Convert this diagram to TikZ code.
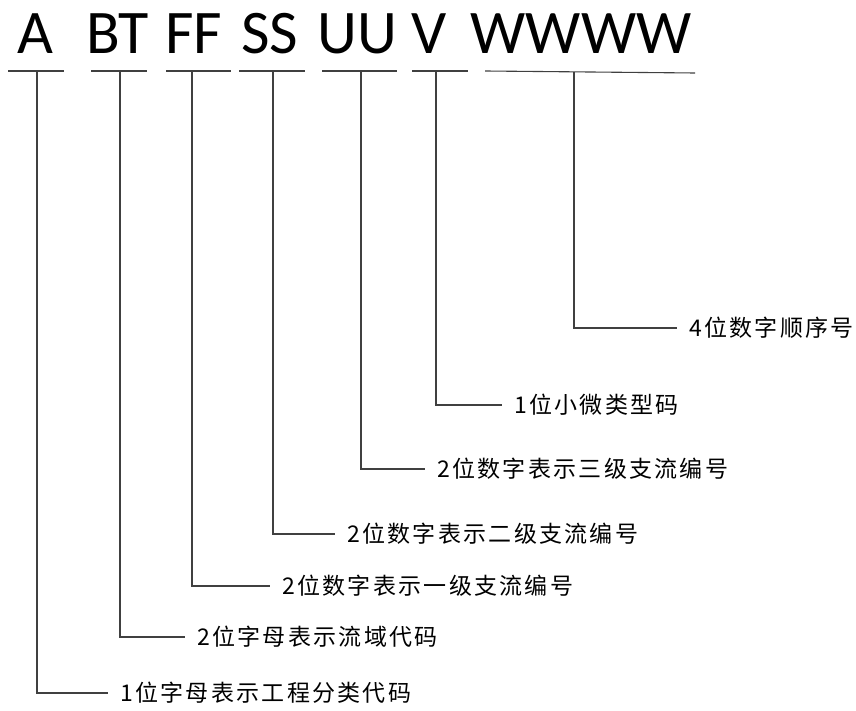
\documentclass[tikz,border=0pt]{standalone}
\usepackage{fontspec}
\setmainfont{Carlito}
\newfontfamily\cjk[LetterSpace=10]{Noto Sans CJK SC}

\begin{document}
\begin{tikzpicture}[x=1pt,y=-1pt,
  code/.style={font=\fontsize{62}{62}\selectfont, anchor=base, inner sep=0pt},
  desc/.style={font=\cjk\fontsize{23}{23}\selectfont, anchor=west, inner xsep=12pt, inner ysep=0pt},
  uline/.style={line width=1.1pt, black!75}]
  \useasboundingbox (0,0) rectangle (856,711);

  % Codeteile
  \node[code] (a)  at (35.5,54)  {A};
  \node[code] (bt) at (117.5,54) {BT};
  \node[code] (ff) at (193.5,54) {FF};
  \node[code] (ss) at (269.5,54) {SS};
  \node[code] (uu) at (357.5,54) {UU};
  \node[code] (v)  at (429,54)   {V};
  \node[code] (w)  at (581,54)   {WWWW};

  % Unterstriche
  \draw[uline] (8,71) -- (64,71);
  \draw[uline] (91,71) -- (147,71);
  \draw[uline] (166,71) -- (231,71);
  \draw[uline] (239,71) -- (305,71);
  \draw[uline] (322,71) -- (397,71);
  \draw[uline] (412,71) -- (468,71);
  \draw[uline] (485,71) -- (695,73);

  % Abzweigpunkte
  \coordinate (ka)  at (37,71);
  \coordinate (kbt) at (120,71);
  \coordinate (kff) at (192,71);
  \coordinate (kss) at (273,71);
  \coordinate (kuu) at (361,71);
  \coordinate (kv)  at (436,71);
  \coordinate (kw)  at (574,72);

  % Beschriftungen
  \node[desc] (la)  at (108,693) {1位字母表示工程分类代码};
  \node[desc] (lbt) at (185,637) {2位字母表示流域代码};
  \node[desc] (lff) at (270,586) {2位数字表示一级支流编号};
  \node[desc] (lss) at (335,534) {2位数字表示二级支流编号};
  \node[desc] (luu) at (425,469) {2位数字表示三级支流编号};
  \node[desc] (lv)  at (502,405) {1位小微类型码};
  \node[desc] (lw)  at (677,328) {4位数字顺序号};

  % Verbindungslinien
  \draw[uline] (ka)  |- (la.west);
  \draw[uline] (kbt) |- (lbt.west);
  \draw[uline] (kff) |- (lff.west);
  \draw[uline] (kss) |- (lss.west);
  \draw[uline] (kuu) |- (luu.west);
  \draw[uline] (kv)  |- (lv.west);
  \draw[uline] (kw)  |- (lw.west);
\end{tikzpicture}
\end{document}
